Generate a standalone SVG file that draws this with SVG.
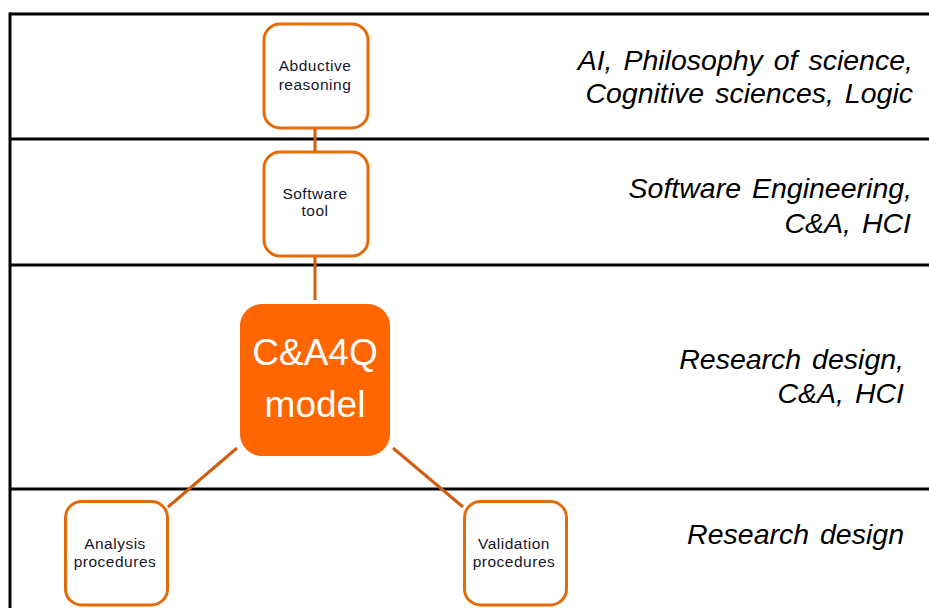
<svg xmlns="http://www.w3.org/2000/svg" width="929" height="608" viewBox="0 0 929 608">
<style>
.band{stroke:#000;stroke-width:3;fill:none}
.node{fill:#fff;stroke:#E36C0A;stroke-width:3}
.core{fill:#FF6600;stroke:none}
.conn{stroke:#CF5F10;stroke-width:3;fill:none}
.small{font-family:"Liberation Sans",Arial,sans-serif;font-size:15.5px;letter-spacing:0.5px;fill:#161628;text-anchor:middle}
.big{font-family:"Liberation Sans",Arial,sans-serif;font-size:37px;fill:#fff;text-anchor:middle}
.field{font-family:"Liberation Sans",Arial,sans-serif;font-size:28.5px;font-style:italic;fill:#000;text-anchor:end;word-spacing:3px}
</style>
<rect width="929" height="608" fill="#fff"/>
<g id="bands">
<line class="band" x1="10" y1="14" x2="929" y2="14"/>
<line class="band" x1="10" y1="139" x2="929" y2="139"/>
<line class="band" x1="10" y1="265" x2="929" y2="265"/>
<line class="band" x1="10" y1="489" x2="929" y2="489"/>
<line class="band" x1="10" y1="12.5" x2="10" y2="608"/>
</g>
<g id="field-labels">
<text class="field" x="913" y="70">AI, Philosophy of science,</text>
<text class="field" x="913" y="103">Cognitive sciences, Logic</text>
<text class="field" x="912" y="198">Software Engineering,</text>
<text class="field" x="911" y="233">C&amp;A, HCI</text>
<text class="field" x="904" y="369">Research design,</text>
<text class="field" x="904" y="403">C&amp;A, HCI</text>
<text class="field" x="904" y="544">Research design</text>
</g>
<g id="connectors">
<line class="conn" x1="315" y1="128" x2="315" y2="152"/>
<line class="conn" x1="315" y1="256" x2="315" y2="300"/>
<line class="conn" x1="237" y1="448" x2="168" y2="507"/>
<line class="conn" x1="393" y1="448" x2="463" y2="507"/>
</g>
<g id="abductive">
<rect class="node" x="264" y="24" width="104" height="104" rx="16"/>
<text class="small" x="315" y="71">Abductive</text>
<text class="small" x="315" y="90">reasoning</text>
</g>
<g id="software">
<rect class="node" x="264" y="152" width="104" height="104" rx="16"/>
<text class="small" x="315" y="199">Software</text>
<text class="small" x="315" y="216">tool</text>
</g>
<g id="model">
<rect class="core" x="240" y="304" width="150" height="152" rx="22"/>
<text class="big" x="315" y="365">C&amp;A4Q</text>
<text class="big" x="315" y="417">model</text>
</g>
<g id="analysis">
<rect class="node" x="65.5" y="501.5" width="102" height="103.5" rx="16"/>
<text class="small" x="115" y="549">Analysis</text>
<text class="small" x="115" y="567">procedures</text>
</g>
<g id="validation">
<rect class="node" x="464.5" y="501.5" width="102" height="103.5" rx="16"/>
<text class="small" x="514" y="549">Validation</text>
<text class="small" x="514" y="567">procedures</text>
</g>
</svg>
